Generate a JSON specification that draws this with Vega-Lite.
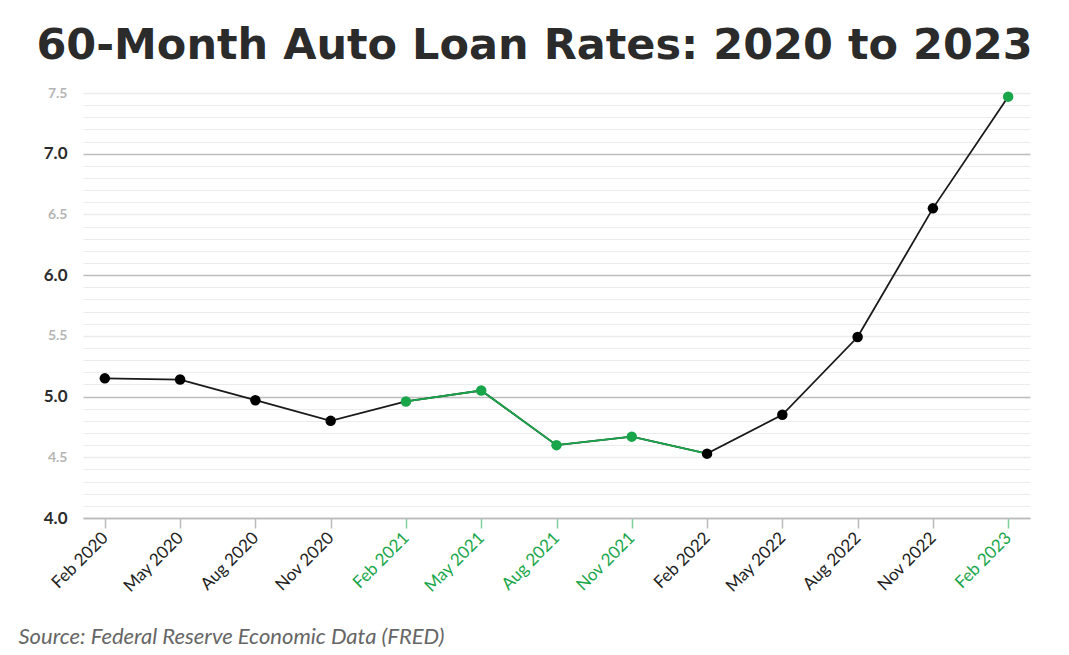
{
  "$schema": "https://vega.github.io/schema/vega-lite/v6.json",
  "autosize": {"type": "none"},
  "width": 947,
  "height": 425,
  "padding": {"left": 83, "top": 93, "right": 39, "bottom": 137},
  "background": "white",
  "title": {
    "text": "60-Month Auto Loan Rates: 2020 to 2023",
    "font": "DejaVu Sans",
    "fontSize": 43,
    "fontWeight": "bold",
    "color": "#2b2b2b",
    "anchor": "middle",
    "dx": -22,
    "offset": 18
  },
  "data": {
    "values": [
      {"month": "Feb 2020", "rate": 5.15},
      {"month": "May 2020", "rate": 5.14},
      {"month": "Aug 2020", "rate": 4.97},
      {"month": "Nov 2020", "rate": 4.80},
      {"month": "Feb 2021", "rate": 4.96},
      {"month": "May 2021", "rate": 5.05},
      {"month": "Aug 2021", "rate": 4.60},
      {"month": "Nov 2021", "rate": 4.67},
      {"month": "Feb 2022", "rate": 4.53},
      {"month": "May 2022", "rate": 4.85},
      {"month": "Aug 2022", "rate": 5.49},
      {"month": "Nov 2022", "rate": 6.55},
      {"month": "Feb 2023", "rate": 7.47}
    ]
  },
  "encoding": {
    "x": {
      "field": "month",
      "type": "ordinal",
      "sort": null,
      "scale": {"type": "point", "padding": 0.29},
      "axis": {
        "title": "Source: Federal Reserve Economic Data (FRED)",
        "titleFont": "Lato",
        "titleFontSize": 22,
        "titleFontStyle": "italic",
        "titleFontWeight": "normal",
        "titleColor": "#666666",
        "titleAnchor": "start",
        "titleAlign": "left",
        "titleX": -65,
        "titleY": 118,
        "titleBaseline": "middle",
        "labelAngle": -45,
        "labelAlign": "right",
        "labelBaseline": "middle",
        "labelFont": "Lato",
        "labelFontSize": 17,
        "labelPadding": 7,
        "labelColor": {
          "condition": {"test": "indexof(['Feb 2021','May 2021','Aug 2021','Nov 2021','Feb 2023'], datum.value) >= 0", "value": "#19a64a"},
          "value": "#222222"
        },
        "tickColor": {
          "condition": {"test": "indexof(['Feb 2021','May 2021','Aug 2021','Nov 2021','Feb 2023'], datum.value) >= 0", "value": "#7fd19c"},
          "value": "#bbbbbb"
        },
        "tickSize": 10,
        "tickWidth": 1.5,
        "domainColor": "#bbbbbb",
        "domainWidth": 1.5,
        "grid": false
      }
    },
    "y": {
      "field": "rate",
      "type": "quantitative",
      "scale": {"domain": [4, 7.5], "zero": false, "nice": false},
      "axis": {
        "title": null,
        "values": [4.0,4.1,4.2,4.3,4.4,4.5,4.6,4.7,4.8,4.9,5.0,5.1,5.2,5.3,5.4,5.5,5.6,5.7,5.8,5.9,6.0,6.1,6.2,6.3,6.4,6.5,6.6,6.7,6.8,6.9,7.0,7.1,7.2,7.3,7.4,7.5],
        "labelExpr": "round(datum.value*10) % 5 === 0 ? format(datum.value, '.1f') : ''",
        "labelFont": "Lato",
        "labelFontSize": {
          "condition": {"test": "round(datum.value*10) % 10 === 0", "value": 17},
          "value": 14
        },
        "labelFontWeight": "bold",
        "labelColor": {
          "condition": {"test": "round(datum.value*10) % 10 === 0", "value": "#2b2b2b"},
          "value": "#b5b5b5"
        },
        "labelPadding": 16,
        "ticks": false,
        "domain": false,
        "grid": true,
        "gridColor": {
          "condition": {"test": "round(datum.value*10) % 10 === 0", "value": "#bdbdbd"},
          "value": "#ececec"
        },
        "gridWidth": {
          "condition": {"test": "round(datum.value*10) % 5 === 0", "value": 1.5},
          "value": 1
        }
      }
    }
  },
  "layer": [
    {
      "mark": {"type": "line", "color": "#1a1a1a", "strokeWidth": 1.8}
    },
    {
      "transform": [
        {"filter": {"field": "month", "oneOf": ["Feb 2021", "May 2021", "Aug 2021", "Nov 2021", "Feb 2022"]}}
      ],
      "mark": {"type": "line", "color": "#19a64a", "strokeWidth": 1.8}
    },
    {
      "mark": {"type": "circle", "size": 110, "opacity": 1},
      "encoding": {
        "color": {
          "condition": {"test": "indexof(['Feb 2021','May 2021','Aug 2021','Nov 2021','Feb 2023'], datum.month) >= 0", "value": "#19a64a"},
          "value": "#000000"
        }
      }
    }
  ],
  "config": {"view": {"stroke": null}}
}
